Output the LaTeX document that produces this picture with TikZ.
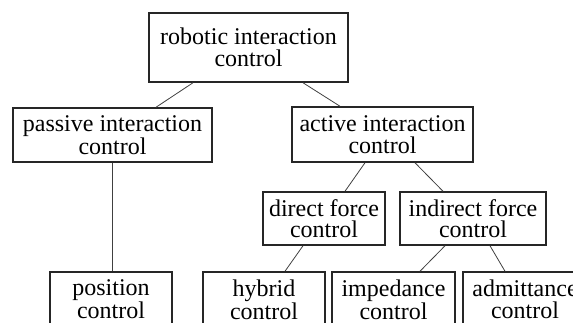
\documentclass[tikz,border=0pt]{standalone}
\usepackage{fontspec}
\setmainfont{LiberationSerif}[Extension=.ttf, UprightFont=*-Regular, BoldFont=*-Bold, ItalicFont=*-Italic, BoldItalicFont=*-BoldItalic]
\begin{document}
\begin{tikzpicture}[x=1pt,y=-1pt,
  box/.style={draw=black!85, line width=1.5pt, fill=white, inner sep=0pt,
    align=center, font=\fontsize{24}{21.5}\selectfont},
  link/.style={draw=black!75, line width=0.8pt}]
\useasboundingbox (0,0) rectangle (573,322);
\clip (0,0) rectangle (573,322);
\node[box, minimum width=199pt, minimum height=69pt] (root) at (248.5,47.5) {robotic interaction\\control};
\node[box, minimum width=199pt, minimum height=54pt] (passive) at (112.5,135) {passive interaction\\control};
\node[box, minimum width=181pt, minimum height=55pt] (active) at (382.5,134.5) {active interaction\\control};
\node[box, minimum width=122pt, minimum height=53pt] (direct) at (324,218.5) {direct force\\control};
\node[box, minimum width=146pt, minimum height=53pt] (indirect) at (473,218.5) {indirect force\\control};
\node[box, minimum width=122pt, minimum height=55pt] (position) at (111,299.5) {position\\control};
\node[box, minimum width=122pt, minimum height=55pt] (hybrid) at (264,299.5) {hybrid\\control};
\node[box, minimum width=123pt, minimum height=55pt] (impedance) at (393.5,299.5) {impedance\\control};
\node[box, minimum width=124pt, minimum height=55pt] (admittance) at (525,299.5) {admittance\\control};
\draw[link] ([xshift=-55.5pt]root.south) -- ([xshift=43.5pt]passive.north);
\draw[link] ([xshift=54.5pt]root.south) -- ([xshift=-42.5pt]active.north);
\draw[link] (passive.south) -- (passive.south |- position.north);
\draw[link] ([xshift=-17.5pt]active.south) -- ([xshift=21pt]direct.north);
\draw[link] ([xshift=32.5pt]active.south) -- ([xshift=-30pt]indirect.north);
\draw[link] ([xshift=-21pt]direct.south) -- ([xshift=21pt]hybrid.north);
\draw[link] ([xshift=-28pt]indirect.south) -- ([xshift=26.5pt]impedance.north);
\draw[link] ([xshift=17pt]indirect.south) -- ([xshift=-20pt]admittance.north);
\end{tikzpicture}
\end{document}
